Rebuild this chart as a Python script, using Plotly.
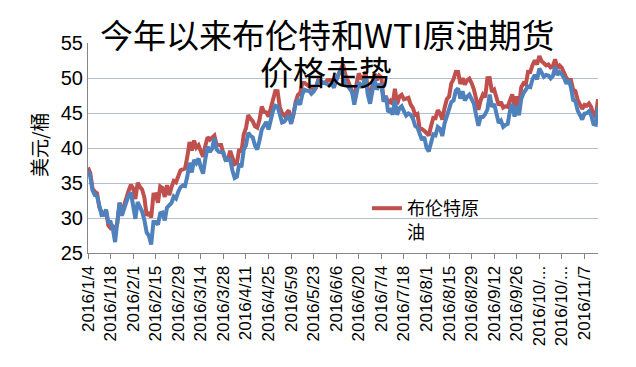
import pandas as pd
import plotly.graph_objects as go

# Categories: every weekday from 2016/1/4 to 2016/11/15
dates = [f"{d.year}/{d.month}/{d.day}" for d in pd.bdate_range("2016-01-04", "2016-11-15")]

brent_jan = [37.22, 36.42, 34.23, 33.75, 33.55, 31.55, 30.86, 30.31, 31.03, 28.94,
             28.55, 28.76, 28.30, 29.25, 32.18, 30.50, 31.80, 33.10, 33.89, 34.74]
brent_feb = [34.24, 32.72, 35.04, 34.46, 34.06, 32.88, 30.32, 30.84, 30.06, 33.36,
             33.39, 32.18, 34.50, 34.28, 33.01, 34.69, 33.27, 34.41, 35.29, 35.10, 35.97]
brent_mar = [36.81, 36.93, 37.07, 38.72, 40.84, 39.65, 41.07, 40.05, 40.39, 39.53,
             38.74, 40.33, 41.54, 41.20, 41.54, 41.79, 40.47, 40.44, 40.44, 39.14,
             38.28, 38.32, 39.60]
brent_apr = [38.67, 37.69, 37.87, 39.84, 39.43, 41.94, 42.83, 44.69, 44.18, 43.84,
             43.10, 42.91, 44.03, 45.91, 45.16, 45.11, 44.48, 45.74, 47.18, 48.14, 48.13]
brent_may = [45.83, 44.97, 44.62, 45.01, 45.37, 43.63, 44.66, 46.56, 47.59, 47.83,
             49.28, 49.28, 49.07, 48.81, 48.72, 48.35, 48.61, 49.74, 49.59, 49.32,
             49.32, 49.69]
brent_jun = [49.72, 49.72, 49.64, 49.69, 50.55, 51.44, 51.95, 50.54, 49.88, 48.97,
             48.01, 47.19, 49.17, 50.65, 49.96, 49.88, 50.91, 48.41, 47.16, 48.58,
             50.61, 49.68]
brent_jul = [50.35, 50.10, 46.80, 47.43, 46.40, 46.76, 46.25, 48.47, 46.26, 47.37,
             47.61, 46.96, 47.08, 47.17, 46.20, 45.69, 44.72, 44.87, 42.70, 42.70, 42.46]
brent_aug = [42.14, 41.80, 43.10, 44.29, 44.27, 45.39, 44.98, 44.05, 45.72, 46.97,
             47.35, 49.23, 49.85, 50.89, 50.88, 49.16, 49.96, 49.05, 49.67, 49.92,
             49.26, 48.37, 47.04]
brent_sep = [45.45, 46.83, 47.63, 47.26, 49.98, 49.99, 48.01, 48.32, 47.10, 46.10,
             46.59, 45.77, 45.95, 45.88, 46.83, 47.65, 45.89, 47.35, 45.97, 48.69,
             49.24, 49.06]
brent_oct = [50.89, 50.87, 51.86, 52.51, 51.93, 53.14, 52.41, 52.03, 51.81, 51.95,
             51.52, 51.68, 52.67, 51.38, 51.78, 51.46, 50.79, 49.98, 49.72, 49.71, 48.30]
brent_nov = [48.14, 46.86, 46.35, 45.58, 46.15, 46.04, 46.36, 45.84, 44.75, 44.43, 46.95]

wti_jan = [36.76, 35.97, 33.97, 33.27, 33.16, 31.41, 30.44, 30.48, 31.20, 29.42,
           29.42, 28.46, 26.55, 29.53, 32.19, 30.34, 31.45, 32.30, 33.22, 33.62]
wti_feb = [31.62, 29.88, 32.28, 31.72, 30.89, 29.69, 27.94, 27.45, 26.21, 29.44,
           29.44, 29.04, 30.66, 30.77, 29.64, 31.48, 31.87, 32.15, 33.07, 32.78, 33.75]
wti_mar = [34.40, 34.66, 34.57, 35.92, 37.90, 36.50, 38.29, 37.84, 38.50, 37.18,
           36.34, 38.46, 40.20, 39.44, 39.91, 41.45, 39.79, 39.46, 39.46, 39.39,
           38.28, 38.32, 38.34]
wti_apr = [36.79, 35.70, 35.89, 37.75, 37.26, 39.72, 40.36, 42.17, 41.76, 41.50,
           40.36, 39.78, 41.08, 42.63, 43.18, 43.73, 42.64, 44.04, 45.33, 46.03, 45.92]
wti_may = [44.78, 43.65, 43.78, 44.32, 44.66, 43.44, 44.66, 46.23, 46.70, 46.21,
           47.72, 48.31, 48.19, 48.16, 47.75, 48.08, 48.62, 49.56, 49.48, 49.33,
           49.33, 49.10]
wti_jun = [49.01, 49.17, 48.62, 49.69, 50.36, 51.23, 50.56, 49.07, 48.88, 48.49,
           48.01, 46.21, 47.98, 49.37, 48.85, 49.13, 50.11, 47.64, 46.33, 47.85,
           49.88, 48.33]
wti_jul = [48.99, 48.99, 46.60, 47.43, 45.14, 45.41, 44.76, 46.80, 44.75, 45.68,
           45.95, 45.24, 44.65, 44.94, 44.75, 44.19, 43.13, 42.92, 41.92, 41.14, 41.60]
wti_aug = [40.06, 39.51, 40.83, 41.93, 41.80, 43.02, 42.77, 41.71, 43.49, 44.49,
           45.74, 46.58, 46.79, 48.22, 48.52, 47.05, 48.10, 46.77, 47.33, 47.64,
           46.98, 46.35, 44.70]
wti_sep = [43.16, 44.44, 44.44, 44.83, 45.50, 47.62, 45.88, 46.29, 44.90, 43.58,
           43.91, 43.03, 43.30, 43.44, 45.34, 46.32, 44.48, 45.93, 44.67, 47.05,
           47.83, 48.24]
wti_oct = [48.81, 48.69, 49.83, 50.44, 49.81, 51.35, 50.79, 50.18, 50.44, 50.35,
           49.94, 50.29, 51.60, 50.43, 50.85, 50.52, 49.96, 49.18, 49.72, 48.70, 46.86]
wti_nov = [46.67, 45.34, 44.66, 44.07, 44.89, 44.98, 45.27, 44.66, 43.41, 43.32, 45.81]

brent = (brent_jan + brent_feb + brent_mar + brent_apr + brent_may + brent_jun +
         brent_jul + brent_aug + brent_sep + brent_oct + brent_nov)
wti = (wti_jan + wti_feb + wti_mar + wti_apr + wti_may + wti_jun +
       wti_jul + wti_aug + wti_sep + wti_oct + wti_nov)

tick_vals = dates[::10]
tick_text = [("2016/10/..." if d.startswith("2016/10/") else d) for d in tick_vals]

y_ticks = [25, 30, 35, 40, 45, 50, 55]

title_line1 = "今年以来布伦特和WTI原油期货"
title_line2 = "价格走势"
y_title = "美元/桶"
brent_name = "布伦特原<br>油"
wti_name = "WTI原油"

CJK = "Noto Sans CJK SC"
LAT = "Liberation Sans, Arial"

fig = go.Figure()
fig.add_trace(go.Scatter(x=dates, y=brent, mode="lines", name=brent_name,
                         line=dict(color="#C0504D", width=4), showlegend=True))
fig.add_trace(go.Scatter(x=dates, y=wti, mode="lines", name=wti_name,
                         line=dict(color="#4F81BD", width=4), showlegend=False))

# page offset (browser body margin)
OFF = 8
W, H = 636, 367
# desired plot box in page pixels
PL, PR, PT, PB = 88, 598, 43, 253
L, T = PL - OFF, PT - OFF
R = W - (PR - OFF)
B = H - (PB - OFF)
pw, ph = W - L - R, H - T - B

def px(xpage):
    return (xpage - PL) / pw

def py(ypage):
    return (PB - ypage) / ph

fig.update_layout(
    width=W, height=H,
    margin=dict(l=L, r=R, t=T, b=B, autoexpand=False),
    paper_bgcolor="white", plot_bgcolor="white",
    font=dict(family=LAT, color="#000000"),
    legend=dict(x=px(367), y=py(190), xanchor="left", yanchor="top",
                bgcolor="rgba(0,0,0,0)", font=dict(family=CJK, size=18, color="#000"),
                valign="top"),
    annotations=[
        dict(text=title_line1, x=px(327), y=py(34), xref="paper", yref="paper",
             showarrow=False, xanchor="center", yanchor="middle",
             font=dict(family=CJK, size=33, color="#000")),
        dict(text=title_line2, x=px(326), y=py(71), xref="paper", yref="paper",
             showarrow=False, xanchor="center", yanchor="middle",
             font=dict(family=CJK, size=33, color="#000")),
        dict(text=y_title, x=px(38), y=py(145), xref="paper", yref="paper",
             showarrow=False, xanchor="center", yanchor="middle", textangle=-90,
             font=dict(family=CJK, size=19, color="#000")),
    ],
)
fig.update_xaxes(type="category", categoryorder="array", categoryarray=dates,
                 range=[0, len(dates) - 1], tickmode="array", automargin=False,
                 tickvals=tick_vals, ticktext=tick_text, tickangle=-90,
                 ticks="outside", ticklen=5, tickcolor="#868686",
                 showline=True, linecolor="#868686", linewidth=1,
                 showgrid=False, zeroline=False,
                 tickfont=dict(family=LAT, size=17, color="#000"))
fig.update_yaxes(range=[25, 55], tickmode="array", tickvals=y_ticks, automargin=False,
                 ticks="", showline=True, linecolor="#868686", linewidth=1,
                 showgrid=True, gridcolor="#B4BFD1", gridwidth=1, zeroline=False,
                 tickfont=dict(family=LAT, size=20, color="#000"))

fig.write_html("out.html")
